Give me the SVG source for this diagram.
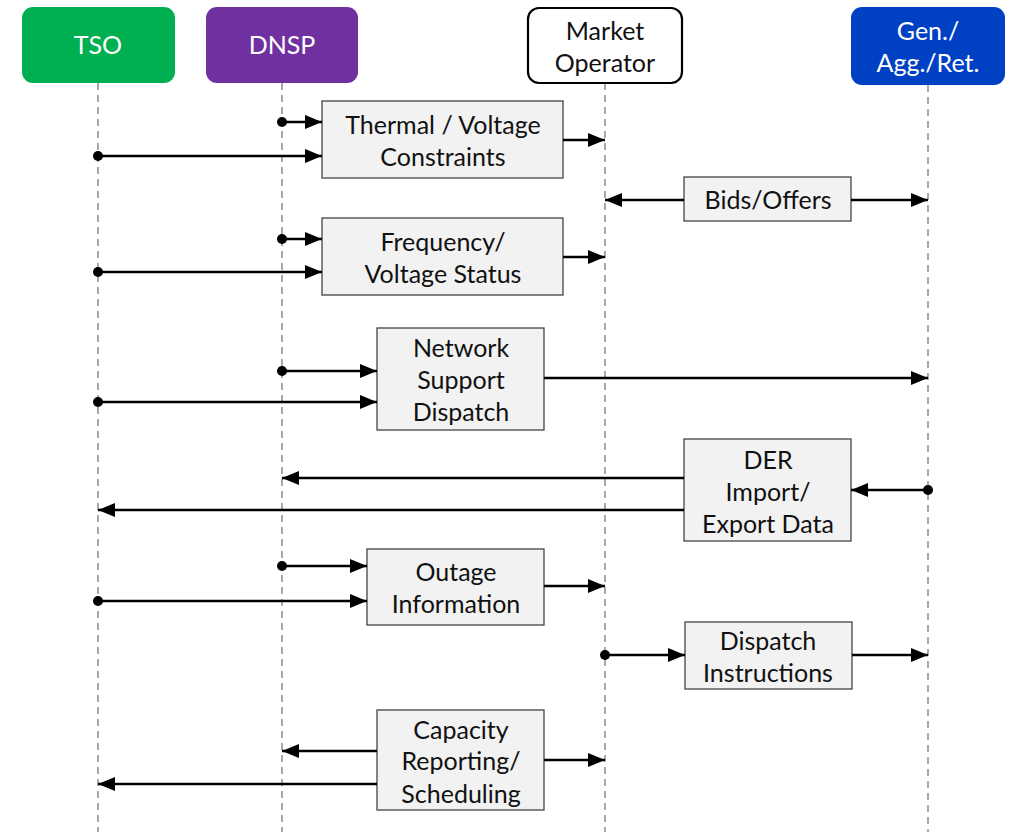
<svg xmlns="http://www.w3.org/2000/svg" width="1010" height="832" viewBox="0 0 1010 832">
  <style>
    text { font-family: "Lato", "Open Sans", "Liberation Sans", sans-serif; font-size: 25px; text-anchor: middle; fill: #111; }
    .hdr text { fill: #fff; }
    .lifeline { stroke: #8c8c8c; stroke-width: 1.5; stroke-dasharray: 7 5; fill: none; }
    .box { fill: #f2f2f2; stroke: #444; stroke-width: 1.3; }
    .msg { stroke: #000; stroke-width: 2.5; fill: none; marker-end: url(#arrow); }
    .dot { fill: #000; }
  </style>
  <defs>
    <marker id="arrow" markerUnits="userSpaceOnUse" markerWidth="18" markerHeight="14" refX="17" refY="7" orient="auto">
      <path d="M0,0 L17,7 L0,14 z" fill="#000"/>
    </marker>
  </defs>

  <rect width="1010" height="832" fill="#fff"/>

  <!-- lifelines -->
  <g id="lifelines">
    <line class="lifeline" x1="98" y1="83" x2="98" y2="832"/>
    <line class="lifeline" x1="282" y1="83" x2="282" y2="832"/>
    <line class="lifeline" x1="605" y1="83" x2="605" y2="832"/>
    <line class="lifeline" x1="928" y1="85" x2="928" y2="832"/>
  </g>

  <!-- participants -->
  <g id="tso" class="hdr">
    <rect x="22" y="7" width="153" height="76" rx="11" fill="#00b050"/>
    <text x="98" y="54">TSO</text>
  </g>
  <g id="dnsp" class="hdr">
    <rect x="206" y="7" width="152" height="76" rx="11" fill="#7030a0"/>
    <text x="282" y="54">DNSP</text>
  </g>
  <g id="market-operator">
    <rect x="528" y="8" width="154" height="75" rx="11" fill="#fff" stroke="#000" stroke-width="2.2"/>
    <text x="605" y="40">Market</text>
    <text x="605" y="72">Operator</text>
  </g>
  <g id="gen-agg-ret" class="hdr">
    <rect x="851" y="7" width="154" height="78" rx="11" fill="#0041c4"/>
    <text x="928" y="40">Gen./</text>
    <text x="928" y="72">Agg./Ret.</text>
  </g>

  <!-- message boxes -->
  <g id="thermal-voltage">
    <rect class="box" x="322" y="101" width="241" height="77"/>
    <text x="443" y="134">Thermal / Voltage</text>
    <text x="443" y="166">Constraints</text>
  </g>
  <g id="bids-offers">
    <rect class="box" x="684" y="177" width="167" height="44"/>
    <text x="768" y="209">Bids/Offers</text>
  </g>
  <g id="frequency-voltage">
    <rect class="box" x="322" y="218" width="241" height="77"/>
    <text x="443" y="251">Frequency/</text>
    <text x="443" y="283">Voltage Status</text>
  </g>
  <g id="network-support">
    <rect class="box" x="377" y="328" width="167" height="102"/>
    <text x="461" y="357">Network</text>
    <text x="461" y="389">Support</text>
    <text x="461" y="421">Dispatch</text>
  </g>
  <g id="der-data">
    <rect class="box" x="684" y="439" width="167" height="102"/>
    <text x="768" y="469">DER</text>
    <text x="768" y="501">Import/</text>
    <text x="768" y="533">Export Data</text>
  </g>
  <g id="outage-info">
    <rect class="box" x="367" y="549" width="177" height="76"/>
    <text x="456" y="581">Outage</text>
    <text x="456" y="613">Information</text>
  </g>
  <g id="dispatch-instructions">
    <rect class="box" x="685" y="622" width="167" height="67"/>
    <text x="768" y="650">Dispatch</text>
    <text x="768" y="682">Instructions</text>
  </g>
  <g id="capacity-reporting">
    <rect class="box" x="377" y="710" width="167" height="100"/>
    <text x="461" y="739">Capacity</text>
    <text x="461" y="770">Reporting/</text>
    <text x="461" y="803">Scheduling</text>
  </g>

  <!-- connectors -->
  <g id="connectors">
    <!-- thermal / voltage constraints -->
    <circle class="dot" cx="282" cy="122" r="5"/>
    <line class="msg" x1="282" y1="122" x2="322" y2="122"/>
    <circle class="dot" cx="98" cy="156" r="5"/>
    <line class="msg" x1="98" y1="156" x2="322" y2="156"/>
    <line class="msg" x1="563" y1="140" x2="605" y2="140"/>
    <!-- bids / offers -->
    <line class="msg" x1="684" y1="200" x2="605" y2="200"/>
    <line class="msg" x1="851" y1="200" x2="928" y2="200"/>
    <!-- frequency / voltage status -->
    <circle class="dot" cx="282" cy="239" r="5"/>
    <line class="msg" x1="282" y1="239" x2="322" y2="239"/>
    <circle class="dot" cx="98" cy="272" r="5"/>
    <line class="msg" x1="98" y1="272" x2="322" y2="272"/>
    <line class="msg" x1="563" y1="257" x2="605" y2="257"/>
    <!-- network support dispatch -->
    <circle class="dot" cx="282" cy="371" r="5"/>
    <line class="msg" x1="282" y1="371" x2="377" y2="371"/>
    <circle class="dot" cx="98" cy="402" r="5"/>
    <line class="msg" x1="98" y1="402" x2="377" y2="402"/>
    <line class="msg" x1="544" y1="378" x2="928" y2="378"/>
    <!-- DER import / export data -->
    <circle class="dot" cx="928" cy="490" r="5"/>
    <line class="msg" x1="928" y1="490" x2="851" y2="490"/>
    <line class="msg" x1="684" y1="478" x2="282" y2="478"/>
    <line class="msg" x1="684" y1="510" x2="98" y2="510"/>
    <!-- outage information -->
    <circle class="dot" cx="282" cy="566" r="5"/>
    <line class="msg" x1="282" y1="566" x2="367" y2="566"/>
    <circle class="dot" cx="98" cy="601" r="5"/>
    <line class="msg" x1="98" y1="601" x2="367" y2="601"/>
    <line class="msg" x1="544" y1="586" x2="605" y2="586"/>
    <!-- dispatch instructions -->
    <circle class="dot" cx="605" cy="655" r="5"/>
    <line class="msg" x1="605" y1="655" x2="685" y2="655"/>
    <line class="msg" x1="852" y1="655" x2="928" y2="655"/>
    <!-- capacity reporting / scheduling -->
    <line class="msg" x1="377" y1="751" x2="282" y2="751"/>
    <line class="msg" x1="377" y1="784" x2="98" y2="784"/>
    <line class="msg" x1="544" y1="760" x2="605" y2="760"/>
  </g>
</svg>
